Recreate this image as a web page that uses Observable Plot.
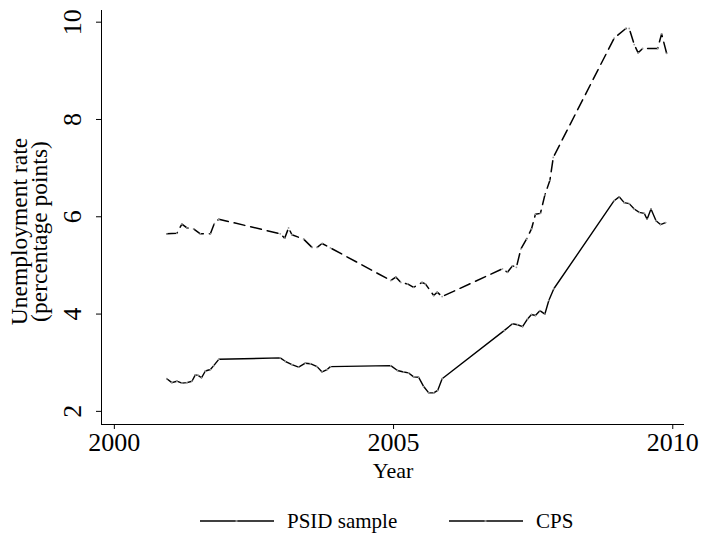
<!DOCTYPE html>
<html><head><meta charset="utf-8">
<script src="https://cdn.jsdelivr.net/npm/d3@7"></script>
<script src="https://cdn.jsdelivr.net/npm/@observablehq/plot@0.6"></script>
<style>
body{margin:0;background:#fff;font-family:"Liberation Serif","Times New Roman","DejaVu Serif",serif;}
#wrap{position:relative;width:702px;height:540px;overflow:hidden;background:#fff;}
#chart{position:absolute;left:0;top:0;}
#chart svg, #chart text{font-family:"Liberation Serif","Times New Roman","DejaVu Serif",serif !important;}
.leg{position:absolute;top:508px;height:26px;display:flex;align-items:center;font-size:21px;color:#000;}
.leg svg{margin-right:13px;}
</style></head><body>
<div id="wrap"><div id="chart"></div><div id="legend"></div></div>
<script>
// PSID sample (solid)
const psidYear = [2000.94,2001.03,2001.12,2001.21,2001.30,2001.39,2001.45,2001.50,2001.56,2001.63,2001.72,2001.78,2001.87,
  2002.97,2003.06,2003.18,2003.30,2003.42,2003.51,2003.63,2003.72,2003.81,2003.87,
  2004.95,2005.07,2005.18,2005.27,2005.36,2005.45,2005.54,2005.63,2005.72,2005.79,2005.87,
  2006.98,2007.13,2007.22,2007.31,2007.40,2007.47,2007.54,2007.62,2007.71,2007.78,2007.87,
  2008.95,2009.04,2009.13,2009.22,2009.31,2009.40,2009.49,2009.54,2009.61,2009.70,2009.78,2009.87];
const psidRate = [2.67,2.59,2.62,2.58,2.59,2.62,2.75,2.74,2.69,2.83,2.86,2.94,3.07,
  3.10,3.03,2.96,2.91,2.99,2.98,2.92,2.81,2.86,2.92,
  2.94,2.84,2.81,2.79,2.71,2.70,2.51,2.38,2.38,2.43,2.67,
  3.66,3.80,3.78,3.74,3.90,3.99,3.97,4.07,4.00,4.28,4.52,
  6.33,6.41,6.29,6.27,6.16,6.09,6.07,5.95,6.16,5.92,5.84,5.88];
// CPS (dashed)
const cpsYear = [2000.94,2001.12,2001.21,2001.30,2001.42,2001.54,2001.72,2001.79,2001.87,
  2002.97,2003.05,2003.12,2003.18,2003.39,2003.54,2003.63,2003.72,2003.87,
  2004.95,2005.04,2005.13,2005.25,2005.36,2005.51,2005.57,2005.72,2005.78,2005.87,
  2006.95,2007.04,2007.13,2007.20,2007.28,2007.38,2007.47,2007.54,2007.63,2007.71,2007.80,2007.86,
  2008.95,2009.16,2009.22,2009.31,2009.38,2009.46,2009.73,2009.80,2009.89];
const cpsRate = [5.65,5.66,5.85,5.77,5.75,5.65,5.65,5.86,5.95,
  5.65,5.56,5.77,5.63,5.54,5.37,5.37,5.45,5.36,
  4.69,4.76,4.65,4.62,4.55,4.65,4.62,4.38,4.45,4.36,
  4.93,4.86,4.99,4.96,5.34,5.54,5.75,6.05,6.07,6.45,6.75,7.22,
  9.67,9.87,9.87,9.54,9.37,9.46,9.46,9.76,9.36];

const seriesNames = ["PSID sample", "CPS"];
const xTicks = [2000, 2005, 2010];
const yTicks = [2, 4, 6, 8, 10];
const xTitle = "Year";
const yTitle = "Unemployment rate\n(percentage points)";

const psid = psidYear.map((y, i) => ({year: y, rate: psidRate[i], series: seriesNames[0]}));
const cps = cpsYear.map((y, i) => ({year: y, rate: cpsRate[i], series: seriesNames[1]}));
const all = psid.concat(cps);

const xDomain = [1999.77, 2010.21];
const yDomain = [1.73, 10.24];
const font = "Liberation Serif, Times New Roman, DejaVu Serif, serif";

const chart = Plot.plot({
  width: 702, height: 500,
  marginLeft: 101, marginRight: 18, marginTop: 10, marginBottom: 76,
  x: {domain: xDomain},
  y: {domain: yDomain},
  style: {fontFamily: font, background: "#fff", color: "#000"},
  marks: [
    Plot.ruleX([xDomain[0]], {stroke: "#000", strokeWidth: 1}),
    Plot.ruleY([yDomain[0]], {stroke: "#000", strokeWidth: 1}),
    Plot.axisX({ticks: xTicks, tickFormat: d => String(d), tickSize: 5, tickPadding: 3, fontSize: 26, label: null, stroke: "#000"}),
    Plot.axisY({ticks: yTicks, tickSize: 5, tickFormat: () => "", label: null, stroke: "#000"}),
    Plot.text(yTicks, {y: d => d, text: d => String(d), frameAnchor: "left", dx: -21, rotate: -90,
      textAnchor: "middle", lineAnchor: "bottom", fontSize: 26, fill: "#000"}),
    Plot.line(psid, {x: "year", y: "rate", stroke: "#000", strokeWidth: 1.4}),
    Plot.line(cps, {x: "year", y: "rate", stroke: "#000", strokeWidth: 1.5, strokeDasharray: "11,6"}),
    Plot.dot(all, {x: "year", y: "rate", r: 0.9, fill: "#999", stroke: null}),
    Plot.text([xTitle], {frameAnchor: "bottom", dy: 53, fontSize: 22, fill: "#000"}),
    Plot.text([yTitle], {frameAnchor: "left", dx: -71, dy: 14, rotate: -90, textAnchor: "middle",
      fontSize: 23.5, lineHeight: 0.86, fill: "#000"})
  ]
});
document.getElementById("chart").appendChild(chart);

// legend below the plot
const legend = document.getElementById("legend");
const legendPos = [200, 449];
seriesNames.forEach((name, i) => {
  const item = document.createElement("div");
  item.className = "leg";
  item.style.left = legendPos[i] + "px";
  item.innerHTML = `<svg width="74" height="10"><line x1="0" y1="5" x2="74" y2="5" stroke="#000" stroke-width="1.5"/><rect x="35.5" y="4.2" width="2" height="1.6" fill="#aaa"/></svg><span>${name}</span>`;
  legend.appendChild(item);
});
</script>
</body></html>
